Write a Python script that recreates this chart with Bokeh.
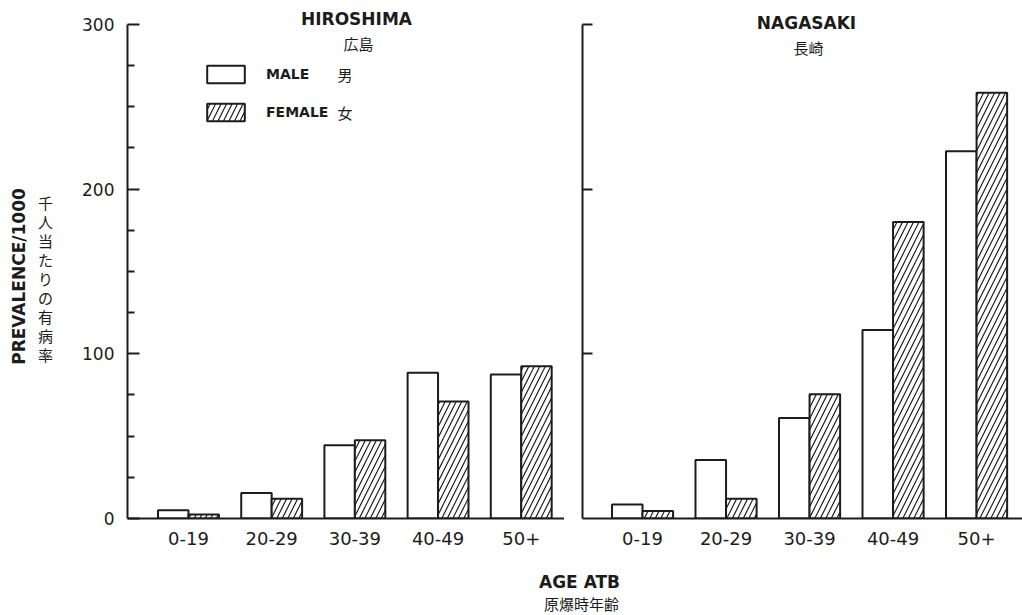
import math
from bokeh.plotting import figure
from bokeh.layouts import column, row
from bokeh.models import (Range1d, FixedTicker, Label, Legend, LegendItem,
                          ColumnDataSource)
from bokeh.transform import dodge
from bokeh.embed import file_html
from bokeh.resources import INLINE

# ---------------- data ----------------
age_groups = ["0-19", "20-29", "30-39", "40-49", "50+"]
group_pos = [1, 2, 3, 4, 5]
hiroshima_male = [5, 15.5, 44.5, 88.5, 87.5]
hiroshima_female = [2.5, 12, 47.5, 71, 92.5]
nagasaki_male = [8.5, 35.5, 61, 114.5, 223]
nagasaki_female = [4.5, 12, 75.5, 180, 258.5]
y_ticks = [0, 100, 200, 300]
y_minor = [25, 50, 75, 125, 150, 175, 225, 250, 275]

INK = "#1c1c1c"
LAT = "DejaVu Sans"
CJK = "Noto Sans CJK JP"
BAR_W = 0.366

TOP_H = 565
LEFT_W = 70


def blank_fig(width, height):
    p = figure(width=width, height=height, output_backend="svg", toolbar_location=None,
               x_range=Range1d(0, 1), y_range=Range1d(0, 1),
               min_border=0, outline_line_color=None,
               background_fill_color="white", border_fill_color="white")
    p.axis.visible = False
    p.grid.visible = False
    return p


def base_fig(width, left, xs, xe):
    p = figure(width=width, height=TOP_H, output_backend="svg", toolbar_location=None,
               x_range=Range1d(xs, xe), y_range=Range1d(0, 311.5),
               min_border_left=left, min_border_right=0, min_border_top=5,
               min_border_bottom=47, background_fill_color="white",
               border_fill_color="white", outline_line_color=None)
    p.grid.visible = False
    xa = p.xaxis[0]
    xa.ticker = FixedTicker(ticks=group_pos)
    xa.major_label_overrides = {g: a for g, a in zip(group_pos, age_groups)}
    xa.major_tick_in = 0
    xa.major_tick_out = 0
    xa.minor_tick_in = 0
    xa.minor_tick_out = 0
    xa.axis_line_width = 2
    xa.axis_line_color = INK
    xa.major_label_standoff = 13
    xa.major_label_text_font = LAT
    xa.major_label_text_font_size = "18px"
    xa.major_label_text_color = INK
    ya = p.yaxis[0]
    ya.bounds = (0, 300)
    ya.axis_line_width = 2
    ya.axis_line_color = INK
    ya.major_tick_out = 0
    ya.major_tick_line_width = 2
    ya.major_tick_line_color = INK
    ya.minor_tick_out = 0
    ya.minor_tick_line_width = 2
    ya.minor_tick_line_color = INK
    return p


def bars(p, male, female):
    src = ColumnDataSource(dict(x=group_pos, male=male, female=female))
    rm = p.vbar(x=dodge("x", -BAR_W / 2, range=p.x_range), top="male", bottom=0,
                width=BAR_W, source=src, fill_color="white",
                line_color=INK, line_width=2)
    rf = p.vbar(x=dodge("x", BAR_W / 2, range=p.x_range), top="female", bottom=0,
                width=BAR_W, source=src, fill_color="white",
                line_color=INK, line_width=2,
                hatch_pattern="right_diagonal_line", hatch_color=INK,
                hatch_weight=1.2, hatch_scale=11)
    return rm, rf


def lab(p, x, y, text, size, font=LAT, bold=False, angle=0.0, line_height=1.2):
    p.add_layout(Label(x=x, y=y, x_units="screen", y_units="screen", text=text,
                       text_font=font, text_font_size=size,
                       text_font_style="bold" if bold else "normal",
                       text_color=INK, text_align="center",
                       text_baseline="middle", angle=angle,
                       text_line_height=line_height))


# ---------------- y title column ----------------
p0 = blank_fig(LEFT_W, TOP_H)
lab(p0, 18.5, 242, "PREVALENCE/1000", "17px", bold=True, angle=math.pi / 2)
lab(p0, 45, 240, "\n".join("千人当たりの有病率"), "15px", font=CJK, line_height=0.9)

# ---------------- Hiroshima ----------------
p1 = base_fig(564 - LEFT_W, 127 - LEFT_W, 0.267, 5.52)
ya = p1.yaxis[0]
ya.ticker = FixedTicker(ticks=y_ticks, minor_ticks=y_minor)
ya.major_tick_in = 12
ya.minor_tick_in = 7
ya.major_label_standoff = 13
ya.major_label_text_font = LAT
ya.major_label_text_font_size = "17px"
ya.major_label_text_color = INK
rm, rf = bars(p1, hiroshima_male, hiroshima_female)

legend = Legend(items=[LegendItem(label="MALE", renderers=[rm]),
                       LegendItem(label="FEMALE", renderers=[rf])],
                location=(75, 395), orientation="vertical",
                glyph_width=47, glyph_height=22, label_height=22,
                spacing=16, padding=0, margin=0, label_standoff=17,
                border_line_color=None, background_fill_alpha=0,
                label_text_font=LAT, label_text_font_size="14px",
                label_text_font_style="bold", label_text_color=INK)
p1.add_layout(legend)

lab(p1, 229, 500, "HIROSHIMA", "17px", bold=True)
lab(p1, 231, 475, "広島", "15px", font=CJK)
lab(p1, 217.5, 444, "男", "15px", font=CJK)
lab(p1, 217.5, 406, "女", "15px", font=CJK)

# ---------------- Nagasaki ----------------
p2 = base_fig(458, 18, 0.281, 5.55)
ya = p2.yaxis[0]
ya.ticker = FixedTicker(ticks=y_ticks[1:])
ya.major_tick_in = 10
ya.minor_tick_in = 0
ya.major_label_overrides = {t: "" for t in y_ticks}
ya.major_label_standoff = 0
bars(p2, nagasaki_male, nagasaki_female)
lab(p2, 224, 496, "NAGASAKI", "17px", bold=True)
lab(p2, 226, 471, "長崎", "15px", font=CJK)

# ---------------- shared x title ----------------
p3 = blank_fig(1022, 50)
lab(p3, 579, 34, "AGE ATB", "17px", bold=True)
lab(p3, 581, 12, "原爆時年齢", "15px", font=CJK)

layout = column(row(p0, p1, p2, spacing=0), p3, spacing=0)
open("out.html", "w").write(file_html(layout, INLINE))
